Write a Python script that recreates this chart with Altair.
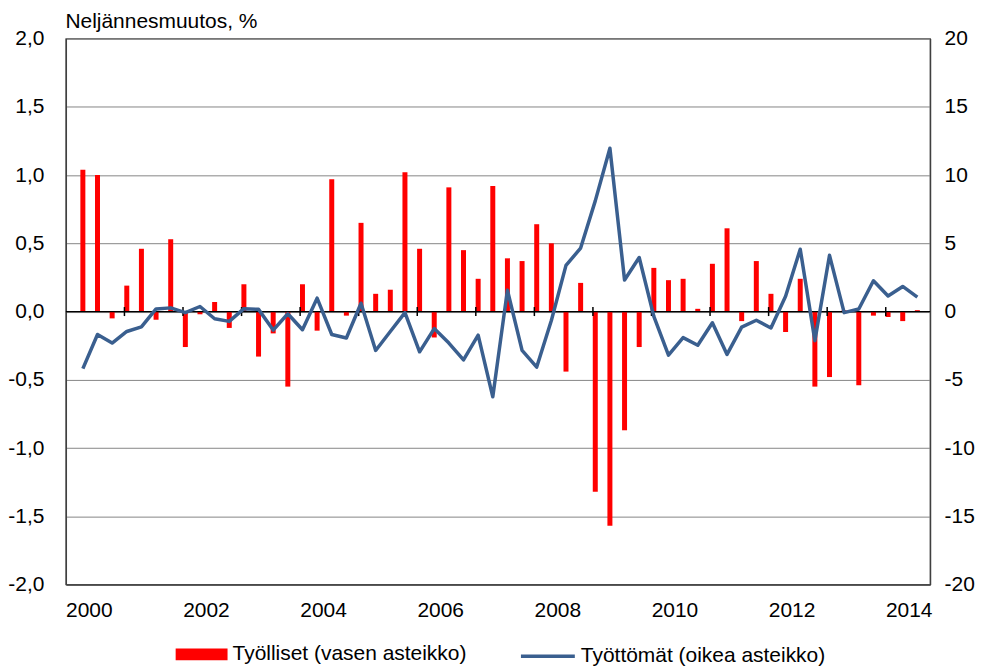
import altair as alt
import pandas as pd

# ---- data (quarterly change, 2000Q1 - 2014Q2) ----
quarters = [f"{y}Q{q}" for y in range(2000, 2015) for q in range(1, 5)][:58]

employed = [1.04, 1.00, -0.05, 0.19, 0.46, -0.06, 0.53, -0.26, -0.02, 0.07,
            -0.12, 0.20, -0.33, -0.16, -0.55, 0.20, -0.14, 0.97, -0.03, 0.65,
            0.13, 0.16, 1.02, 0.46, -0.19, 0.91, 0.45, 0.24, 0.92, 0.39,
            0.37, 0.64, 0.50, -0.44, 0.21, -1.32, -1.57, -0.87, -0.26, 0.32,
            0.23, 0.24, 0.02, 0.35, 0.61, -0.07, 0.37, 0.13, -0.15, 0.24,
            -0.55, -0.48, 0.01, -0.54, -0.03, -0.04, -0.07, 0.01]

unemployed = [-4.18, -1.68, -2.31, -1.46, -1.12, 0.19, 0.27, -0.08, 0.37, -0.53,
              -0.72, 0.21, 0.16, -1.36, -0.16, -1.33, 0.98, -1.68, -1.94, 0.61,
              -2.85, -1.46, -0.08, -2.95, -1.25, -2.31, -3.54, -1.73, -6.25, 1.57,
              -2.85, -4.07, -0.66, 3.38, 4.65, 8.11, 11.97, 2.31, 3.96, -0.35,
              -3.19, -1.91, -2.47, -0.82, -3.14, -1.14, -0.64, -1.20, 1.12, 4.57,
              -2.13, 4.12, -0.08, 0.19, 2.26, 1.14, 1.84, 1.06]

year_label_pos = [0, 8, 16, 24, 32, 40, 48, 56]          # quarter index of labelled years
zero_tick_pos = [2.84, 6.84, 10.84, 14.84, 18.84, 22.84, 26.84,
                 30.84, 34.84, 38.84, 42.84, 46.84, 50.84, 54.84]
left_ticks = [-2.0, -1.5, -1.0, -0.5, 0.0, 0.5, 1.0, 1.5, 2.0]
right_ticks = [-20, -15, -10, -5, 0, 5, 10, 15, 20]

name_bar = "Työlliset (vasen asteikko)"
name_line = "Työttömät (oikea asteikko)"

df = pd.DataFrame({
    "t": list(range(len(quarters))),
    "quarter": quarters,
    "employed": employed,
    "unemployed": unemployed,
    "s_bar": name_bar,
    "s_line": name_line,
})
ticks_df = pd.DataFrame({"t": zero_tick_pos, "lo": -0.033, "hi": 0.033})
zero_df = pd.DataFrame({"y": [0.0]})

FONT = "Liberation Sans"
FS = 21
x_scale = alt.Scale(domain=[-1.16, 57.87], nice=False, zero=False, padding=0)
yl_scale = alt.Scale(domain=[-2, 2], nice=False, zero=False, padding=0)
yr_scale = alt.Scale(domain=[-20, 20], nice=False, zero=False, padding=0)

x_axis = alt.Axis(values=year_label_pos, labelExpr="toString(2000 + datum.value / 4)",
                  ticks=False, domain=True, domainColor="#404040", domainWidth=1.3,
                  grid=False, labelFlush=False,
                  labelOffset=6, labelPadding=15, labelFontSize=FS, labelFont=FONT,
                  labelColor="#000000", title=None)

bars = alt.Chart(df).mark_bar(size=5).encode(
    x=alt.X("t:Q", scale=x_scale, axis=x_axis),
    y=alt.Y("employed:Q", scale=yl_scale,
            axis=alt.Axis(values=left_ticks, grid=True, gridColor="#868686", gridWidth=1,
                          ticks=False, domain=True, domainColor="#404040", domainWidth=1.3,
                          labelPadding=22,
                          labelFontSize=FS, labelFont=FONT, labelColor="#000000",
                          labelExpr="(datum.value < 0 ? '-' : '') + replace(format(abs(datum.value), '.1f'), '.', ',')",
                          title="Neljännesmuutos, %", titleAngle=0, titleAlign="left",
                          titleBaseline="alphabetic", titleX=-1, titleY=-11,
                          titleFontSize=FS, titleFont=FONT, titleFontWeight="normal",
                          titleColor="#000000")),
    fill=alt.Fill("s_bar:N", scale=alt.Scale(domain=[name_bar], range=["#ff0000"]),
                  legend=alt.Legend(orient="none", legendX=110, legendY=591, title=None,
                                    direction="horizontal", padding=0,
                                    symbolType="M-1,-0.23H1V0.23H-1Z", symbolSize=2704,
                                    symbolStrokeWidth=0, labelFontSize=FS, labelFont=FONT,
                                    labelColor="#000000", labelOffset=5, labelLimit=500)),
)

zero_line = alt.Chart(zero_df).mark_rule(color="#000000", strokeWidth=1.2).encode(
    y=alt.Y("y:Q", scale=yl_scale),
)

zero_ticks = alt.Chart(ticks_df).mark_rule(color="#000000", strokeWidth=1.5).encode(
    x=alt.X("t:Q", scale=x_scale),
    y=alt.Y("lo:Q", scale=yl_scale),
    y2="hi:Q",
)

left = alt.layer(bars, zero_line, zero_ticks)

line = alt.Chart(df).mark_line(strokeWidth=3.5, strokeJoin="round").encode(
    x=alt.X("t:Q", scale=x_scale),
    y=alt.Y("unemployed:Q", scale=yr_scale,
            axis=alt.Axis(orient="right", values=right_ticks, grid=False, ticks=False,
                          domain=True, domainColor="#404040", domainWidth=1.3,
                          labelPadding=14, labelAlign="left",
                          labelFontSize=FS, labelFont=FONT, labelColor="#000000",
                          labelExpr="(datum.value < 0 ? '-' : '') + format(abs(datum.value), 'd')",
                          title=None)),
    stroke=alt.Stroke("s_line:N", scale=alt.Scale(domain=[name_line], range=["#3a5f8f"]),
                      legend=alt.Legend(orient="none", legendX=454, legendY=590, title=None,
                                        direction="horizontal", padding=0,
                                        symbolType="stroke", symbolSize=2916,
                                        symbolStrokeWidth=3.5, labelFontSize=FS,
                                        labelFont=FONT, labelColor="#000000",
                                        labelOffset=4, labelLimit=500)),
)

chart = alt.layer(left, line).resolve_scale(
    y="independent", fill="independent", stroke="independent"
).properties(
    width=866, height=547,
    autosize=alt.AutoSizeParams(type="none"),
    padding={"left": 58, "top": 30, "right": 45, "bottom": 81},
).configure(
    font=FONT, background="#ffffff"
).configure_view(
    stroke="#404040", strokeWidth=1.3
)

chart.save("out.html", embed_options={"renderer": "svg", "actions": False})
